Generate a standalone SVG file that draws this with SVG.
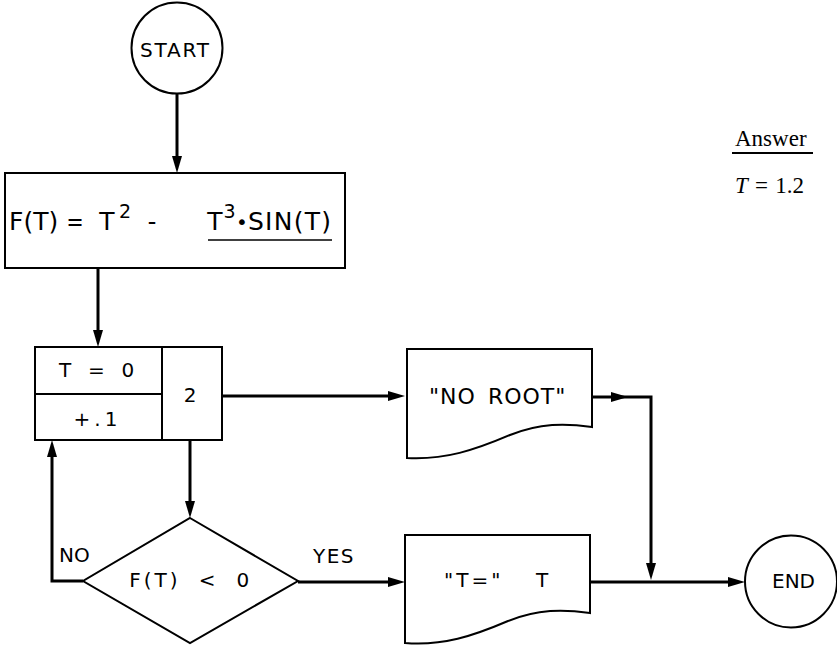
<svg xmlns="http://www.w3.org/2000/svg" width="837" height="646" viewBox="0 0 837 646">
<defs>
<style>
.shape{fill:#fff;stroke:#000;stroke-width:2}
.conn{fill:none;stroke:#000;stroke-width:3;stroke-linejoin:miter}
.t{font-family:"DejaVu Sans","Liberation Sans",sans-serif;font-size:20px;fill:#000}
.f{font-family:"DejaVu Sans","Liberation Sans",sans-serif;font-size:25px;fill:#000}
.fm{font-family:"DejaVu Sans Mono","Liberation Mono",monospace;font-size:25px;fill:#000}
.sup{font-family:"DejaVu Sans","Liberation Sans",sans-serif;font-size:19px;fill:#000}
.ans{font-family:"Liberation Serif","Times New Roman",serif;font-size:23px;fill:#000}
</style>
<marker id="ah" markerWidth="17" markerHeight="10" refX="6" refY="5" orient="auto" markerUnits="userSpaceOnUse">
<path d="M0,0 L17,5 L0,10 Z" fill="#000"/>
</marker>
</defs>
<rect width="837" height="646" fill="#fff"/>

<g id="connectors">
<path class="conn" d="M177,93.5 V162" marker-end="url(#ah)"/>
<path class="conn" d="M98,269 V336" marker-end="url(#ah)"/>
<path class="conn" d="M190,440 V507" marker-end="url(#ah)"/>
<path class="conn" d="M222,396 H394" marker-end="url(#ah)"/>
<path class="conn" d="M298,582 H394" marker-end="url(#ah)"/>
<path class="conn" d="M83,581 H52 V451" marker-end="url(#ah)"/>
<path class="conn" d="M592,397 H617" marker-end="url(#ah)"/>
<path class="conn" d="M617,397 H651 V569" marker-end="url(#ah)"/>
<path class="conn" d="M590,582 H734" marker-end="url(#ah)"/>
</g>

<g id="start">
<circle class="shape" cx="177" cy="48" r="45.5"/>
<text class="t" x="140" y="57" letter-spacing="1.8">START</text>
</g>

<g id="formula">
<rect class="shape" x="5" y="173" width="340" height="95"/>
<text class="f" x="9" y="230">F(T)</text>
<text class="fm" x="75" y="230" text-anchor="middle">=</text>
<text class="f" x="107" y="230" text-anchor="middle">T</text>
<text class="sup" x="125" y="218" text-anchor="middle">2</text>
<text class="fm" x="152" y="230" text-anchor="middle">-</text>
<text class="f" x="215" y="230" text-anchor="middle">T</text>
<text class="sup" x="229.5" y="218" text-anchor="middle">3</text>
<text class="t" x="242" y="229" text-anchor="middle">•</text>
<text class="f" x="248" y="230" textLength="83" lengthAdjust="spacing">SIN(T)</text>
<line x1="208" y1="240" x2="332" y2="240" stroke="#000" stroke-width="1.6"/>
</g>

<g id="loop">
<rect class="shape" x="35" y="347" width="187" height="93"/>
<line x1="35" y1="394" x2="162" y2="394" stroke="#000" stroke-width="2"/>
<line x1="162" y1="347" x2="162" y2="440" stroke="#000" stroke-width="2"/>
<text class="t" x="59" y="377" letter-spacing="5.2">T = 0</text>
<text class="t" x="73.6" y="426" letter-spacing="4">+.1</text>
<text class="t" x="190" y="402" text-anchor="middle">2</text>
</g>

<g id="decision">
<polygon class="shape" points="190,518 298,581 190,643 83,581"/>
<text class="t" x="129.3" y="587" letter-spacing="3" word-spacing="8.7">F(T) &lt; 0</text>
<text class="t" x="59" y="562">NO</text>
<text class="t" x="313" y="563" letter-spacing="1.5">YES</text>
</g>

<g id="noroot">
<path class="shape" d="M407,349 H592 V427 C565,423 540,423 510,435 C475,450 445,460 407,458 Z"/>
<text class="t" x="429" y="404" style="font-size:22px" letter-spacing="1" word-spacing="4">"NO ROOT"</text>
</g>

<g id="output">
<path class="shape" d="M405,535 H590 V613 C563,609 538,609 508,621 C473,636 443,646 405,643 Z"/>
<text class="t" x="444" y="587" letter-spacing="3">"T="</text>
<text class="t" x="542" y="587" text-anchor="middle">T</text>
</g>

<g id="end">
<circle class="shape" cx="791" cy="581.5" r="46"/>
<text class="t" x="772" y="588">END</text>
</g>

<g id="answer">
<text class="ans" x="735" y="146">Answer</text>
<line x1="732" y1="153" x2="813" y2="153" stroke="#000" stroke-width="2"/>
<text class="ans" x="735" y="193" word-spacing="1.5"><tspan font-style="italic">T</tspan> = 1.2</text>
</g>
</svg>
